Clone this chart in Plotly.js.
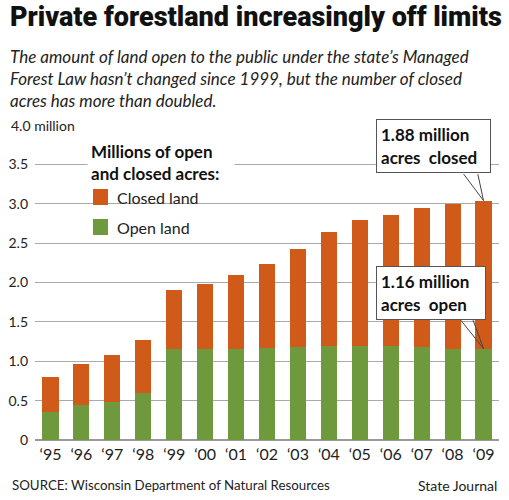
<!DOCTYPE html>
<html>
<head>
<meta charset="utf-8">
<script src="https://cdn.plot.ly/plotly-3.0.1.min.js"></script>
<style>
html,body{margin:0;padding:0;background:#fff;}
#chart{width:509px;height:500px;}
</style>
</head>
<body>
<div id="chart"></div>
<script>
const years = ["\u201895","\u201896","\u201897","\u201898","\u201899","\u201800","\u201801","\u201802","\u201803","\u201804","\u201805","\u201806","\u201807","\u201808","\u201809"];
const openLand = [0.35,0.44,0.48,0.60,1.16,1.16,1.16,1.17,1.18,1.20,1.20,1.20,1.18,1.16,1.16];
const closedLand = [0.45,0.52,0.60,0.67,0.75,0.82,0.93,1.06,1.25,1.44,1.59,1.66,1.77,1.84,1.88];
const yTickVals = [0,0.5,1.0,1.5,2.0,2.5,3.0,3.5];
const yTickText = ["0","0.5","1.0","1.5","2.0","2.5","3.0","3.5"];
const seriesNames = ["Open land","Closed land"];

const ORANGE = "#cf5a19";
const GREEN = "#6e9a3d";
const baseFont = "Lato, 'Open Sans', sans-serif";

// pixel helpers for layout placement (plot area: x 35..499, y 125..440)
const PX = p => (p-35)/464;
const PY = p => (440-p)/315;

const last = years.length - 1;
const lastTotal = openLand[last] + closedLand[last];

const traces = [
  {type:"bar", name:seriesNames[0], x:years, y:openLand, marker:{color:GREEN}, hoverinfo:"skip"},
  {type:"bar", name:seriesNames[1], x:years, y:closedLand, marker:{color:ORANGE}, hoverinfo:"skip"}
];

const calloutFont = {family:baseFont, size:17, color:"#111", weight:700};

function callout(yVal, label, dx, dy, w, p1, p2) {
  // box placed relative to the bar top, plus a V-shaped pointer made of two lines
  const box = {xref:"x", yref:"y", x:years[last], y:yVal, xshift:dx, yshift:dy, showarrow:false,
     text:label, font:calloutFont, bgcolor:"#fff", bordercolor:"#555", borderwidth:1, borderpad:4,
     width:w, height:44, align:"left"};
  const arm = (ax, ay) => ({xref:"x", yref:"y", x:years[last], y:yVal, ax:ax, ay:ay, text:"", showarrow:true,
     arrowhead:0, arrowwidth:1, arrowcolor:"#444", standoff:0, startstandoff:0});
  return [arm(p1[0], p1[1]), arm(p2[0], p2[1]), box];
}

const layout = {
  width:509, height:500,
  margin:{l:35, r:10, t:125, b:60},
  paper_bgcolor:"#fff", plot_bgcolor:"#fff",
  barmode:"stack", bargap:0.48,
  font:{family:baseFont, color:"#222"},
  showlegend:false,
  title:{
    text:"Private forestland increasingly off limits",
    font:{family:"Roboto, Lato, sans-serif", size:27, color:"#111", weight:900},
    x:10/509, xanchor:"left", xref:"container",
    y:1-7/500, yanchor:"top", yref:"container"
  },
  xaxis:{type:"category", tickfont:{size:16, color:"#222"}, ticks:"", ticklabelstandoff:3, showgrid:false, showline:false, zeroline:false, fixedrange:true},
  yaxis:{range:[0,4], tickvals:yTickVals, ticktext:yTickText, tickfont:{size:14, color:"#222"},
         ticks:"", ticklabelstandoff:6, showgrid:true, gridcolor:"#a9a9a9", gridwidth:1,
         zeroline:true, zerolinecolor:"#999", zerolinewidth:1.5, showline:false, fixedrange:true},
  shapes:[
    {type:"rect", xref:"paper", yref:"paper", x0:PX(83), x1:PX(206), y0:PY(186), y1:PY(212), fillcolor:"#fff", line:{width:0}, layer:"between"},
    {type:"rect", xref:"paper", yref:"paper", x0:PX(93), x1:PX(108), y0:PY(205), y1:PY(189), fillcolor:ORANGE, line:{width:0}, layer:"above"},
    {type:"rect", xref:"paper", yref:"paper", x0:PX(93), x1:PX(108), y0:PY(235), y1:PY(219), fillcolor:GREEN, line:{width:0}, layer:"above"}
  ],
  annotations:[
    {xref:"paper", yref:"y", x:PX(10), y:4, xanchor:"left", yanchor:"middle",
     text:"4.0 million", showarrow:false, font:{size:14, color:"#222"}, bgcolor:"#fff", width:78, align:"left", borderpad:0},
    {xref:"paper", yref:"paper", x:PX(8), y:PY(44), xanchor:"left", yanchor:"top", align:"left",
     text:"<i>The amount of land open to the public under the state\u2019s Managed<br>Forest Law hasn\u2019t changed since 1999, but the number of closed<br>acres has more than doubled.</i>",
     showarrow:false, font:{size:17, color:"#222"}},
    {xref:"paper", yref:"paper", x:PX(87), y:PY(162), xanchor:"left", yanchor:"middle", align:"left",
     text:"<b>Millions of open<br>and closed acres:</b>", showarrow:false, font:{size:17, color:"#111"},
     bgcolor:"#fff", borderpad:3, width:140},
    {xref:"paper", yref:"paper", x:PX(115), y:PY(197), xanchor:"left", yanchor:"middle",
     text:seriesNames[1], showarrow:false, font:{size:16, color:"#222"}},
    {xref:"paper", yref:"paper", x:PX(115), y:PY(227), xanchor:"left", yanchor:"middle",
     text:seriesNames[0], showarrow:false, font:{size:16, color:"#222"}},
    ...callout(lastTotal, closedLand[last].toFixed(2)+" million<br>acres\u00a0 closed", -50, 55, 105, [-21,-28], [-6,-28]),
    ...callout(openLand[last], openLand[last].toFixed(2)+" million<br>acres\u00a0 open", -53, 56, 100, [-24,-30], [-11,-30]),
    {xref:"paper", yref:"paper", x:PX(10), y:PY(485), xanchor:"left", yanchor:"middle",
     text:"SOURCE: Wisconsin Department of Natural Resources", showarrow:false, font:{size:13.3, color:"#222"}},
    {xref:"paper", yref:"paper", x:1, y:PY(485), xanchor:"right", yanchor:"middle",
     text:"State Journal", showarrow:false, font:{size:14, color:"#222"}}
  ]
};

Plotly.newPlot("chart", traces, layout, {displayModeBar:false, staticPlot:true});
</script>
</body>
</html>
